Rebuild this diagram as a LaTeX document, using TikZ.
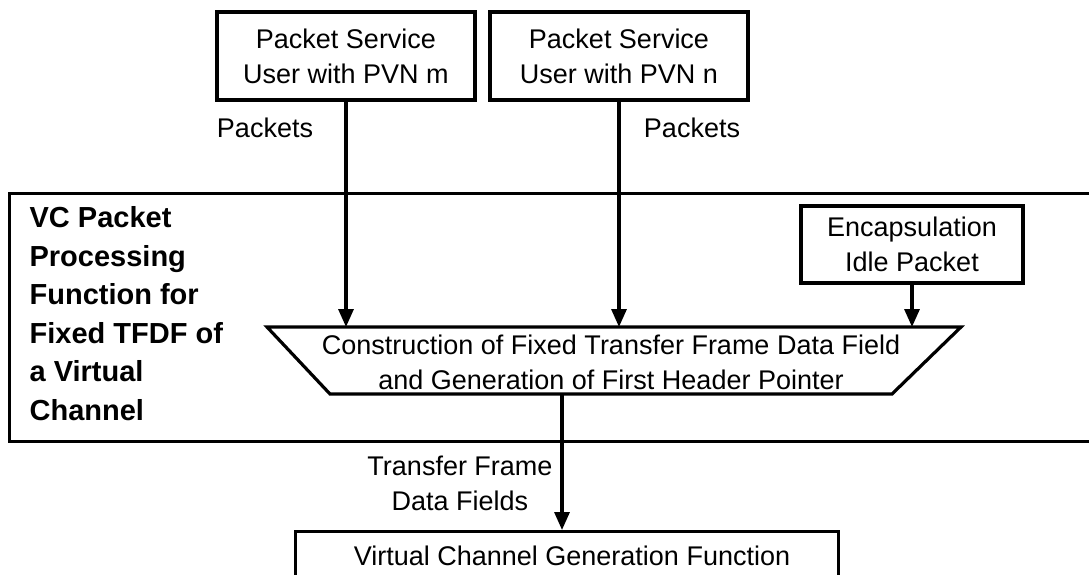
\documentclass[tikz,border=0pt]{standalone}
\usepackage{fontspec}
\setmainfont{Liberation Sans}
\usetikzlibrary{arrows.meta}
\newcommand\rfont{\fontsize{27}{35}\selectfont}
\newcommand\bfontx{\fontsize{29}{38.5}\selectfont\bfseries}
\begin{document}
\begin{tikzpicture}[x=1pt,y=-1pt,
  line width=3.2pt,
  box/.style={draw,line width=3.2pt,inner sep=0pt,align=center,font=\rfont},
  lbl/.style={align=center,font=\rfont,inner sep=0pt},
  arr/.style={line width=3.2pt,-{Triangle[length=18pt,width=15pt]}}]
\useasboundingbox (0,0) rectangle (1089,574);
\clip (0,0) rectangle (1089,574);
% source boxes
\node[box,minimum width=258,minimum height=88] (usrm) at (346,56) {Packet Service\\User with PVN m};
\node[box,minimum width=258,minimum height=88] (usrn) at (619,56) {Packet Service\\User with PVN n};
% container
\node[draw,line width=3.2pt,inner sep=0pt,minimum width=1092,minimum height=248,anchor=north west] (vc) at (8,192) {};
\node[align=left,font=\bfontx,inner sep=0pt,anchor=north west] (vctext) at (28,205) {VC Packet\\Processing\\Function for\\Fixed TFDF of\\a Virtual\\Channel};
% idle packet
\node[box,minimum width=222,minimum height=77] (idle) at (912,244.5) {Encapsulation\\Idle Packet};
% trapezoid
\draw[line width=3.2pt,line join=miter] (267,327) -- (961,327) -- (892,394) -- (330,394) -- cycle;
\coordinate (traptop) at (611,327);
\coordinate (dn) at (562,394);
\node[lbl] (constr) at (611,362) {Construction of Fixed Transfer Frame Data Field\\and Generation of First Header Pointer};
% bottom box
\node[box,minimum width=543,minimum height=80,anchor=north west] (vcg) at (294,530) {};
\node[lbl] (vcgtext) at (572,556) {Virtual Channel Generation Function};
% arrows
\draw[arr] (usrm.south) -- (usrm.south |- traptop);
\draw[arr] (usrn.south) -- (usrn.south |- traptop);
\draw[arr] (idle.south) -- (idle.south |- traptop);
\draw[arr] (dn) -- (dn |- vcg.north);
% labels
\node[lbl] (pm) at (265,128) {Packets};
\node[lbl] (pn) at (692,128) {Packets};
\node[lbl] (tfdf) at (460,483) {Transfer Frame\\Data Fields};
\end{tikzpicture}
\end{document}
